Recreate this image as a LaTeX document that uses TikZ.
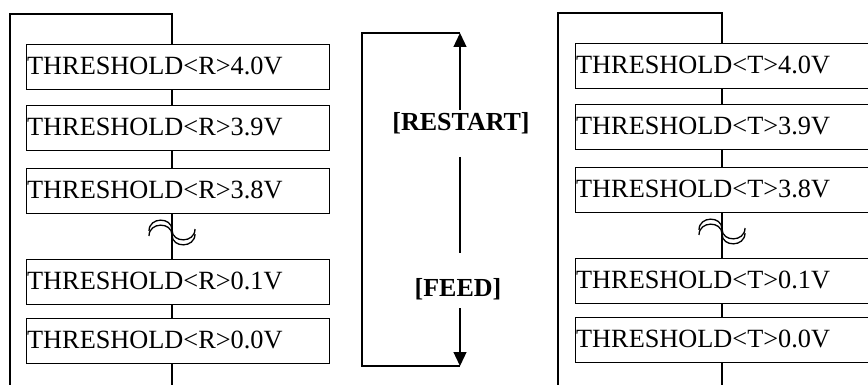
\documentclass[tikz,border=0pt]{standalone}
\usepackage{fontspec}
\setmainfont{Liberation Serif}
\usetikzlibrary{arrows.meta}
\begin{document}
\begin{tikzpicture}[x=1pt,y=-1pt,
  line width=1.3pt,
  thbox/.style={draw, anchor=north west, minimum height=45pt, text width=302pt,
    inner xsep=0.5pt, inner ysep=0pt, align=left, text height=18pt, text depth=4pt,
    font=\fontsize{26.3}{30}\selectfont},
  lbl/.style={font=\fontsize{26}{30}\selectfont\bfseries, inner sep=0pt},
  arr/.style={-{Triangle[length=14pt,width=13pt]}},
  link/.style={line width=1.3pt}]
\useasboundingbox (0,0) rectangle (868,385);
\clip (0,0) rectangle (868,385);
% left panel
\node[thbox] (r1) at (26,44) {THRESHOLD<R>4.0V};
\node[thbox] (r2) at (26,105) {THRESHOLD<R>3.9V};
\node[thbox] (r3) at (26,168) {THRESHOLD<R>3.8V};
\node[thbox] (r4) at (26,259) {THRESHOLD<R>0.1V};
\node[thbox] (r5) at (26,318) {THRESHOLD<R>0.0V};
\coordinate (rtop) at (172,14);
\coordinate (rcorner) at (10,14);
\coordinate (rleftend) at (10,390);
\coordinate (rbotend) at (172,390);
\draw[link] (r1.north -| rtop) -- (rtop) -- (rcorner) -- (rleftend);
\draw[link] (r1.south -| rtop) -- (r2.north -| rtop);
\draw[link] (r2.south -| rtop) -- (r3.north -| rtop);
\draw[link] (r3.south -| rtop) -- (r4.north -| rtop);
\draw[link] (r4.south -| rtop) -- (r5.north -| rtop);
\draw[link] (r5.south -| rtop) -- (rbotend);
\foreach \yy in {230,235}{
  \draw[link] (149,\yy+1) .. controls (149,\yy-13.3) and (172,\yy-13.3) .. (172,\yy)
    .. controls (172,\yy+13.3) and (195,\yy+13.3) .. (195,\yy-1);
}
% middle
\coordinate (mtop) at (460,33);
\coordinate (mtl) at (362,33);
\coordinate (mbl) at (362,366);
\coordinate (mbot) at (460,366);
\coordinate (g1) at (460,110);
\coordinate (g2) at (460,157);
\coordinate (g3) at (460,253);
\coordinate (g4) at (460,308);
\node[lbl] (restart) at (461,123) {[RESTART]};
\node[lbl] (feed) at (458,289) {[FEED]};
\draw[link] (mtop) -- (mtl) -- (mbl) -- (mbot);
\draw[link,arr] (g1) -- (mtop);
\draw[link] (g2) -- (g3);
\draw[link,arr] (g4) -- (mbot);
% right panel
\node[thbox] (t1) at (575,43) {THRESHOLD<T>4.0V};
\node[thbox] (t2) at (575,104) {THRESHOLD<T>3.9V};
\node[thbox] (t3) at (575,167) {THRESHOLD<T>3.8V};
\node[thbox] (t4) at (575,258) {THRESHOLD<T>0.1V};
\node[thbox] (t5) at (575,317) {THRESHOLD<T>0.0V};
\coordinate (ttop) at (722,13);
\coordinate (tcorner) at (558,13);
\coordinate (tleftend) at (558,390);
\coordinate (tbotend) at (722,390);
\draw[link] (t1.north -| ttop) -- (ttop) -- (tcorner) -- (tleftend);
\draw[link] (t1.south -| ttop) -- (t2.north -| ttop);
\draw[link] (t2.south -| ttop) -- (t3.north -| ttop);
\draw[link] (t3.south -| ttop) -- (t4.north -| ttop);
\draw[link] (t4.south -| ttop) -- (t5.north -| ttop);
\draw[link] (t5.south -| ttop) -- (tbotend);
\foreach \yy in {229,234}{
  \draw[link] (699,\yy+1) .. controls (699,\yy-13.3) and (722,\yy-13.3) .. (722,\yy)
    .. controls (722,\yy+13.3) and (745,\yy+13.3) .. (745,\yy-1);
}
\end{tikzpicture}
\end{document}
